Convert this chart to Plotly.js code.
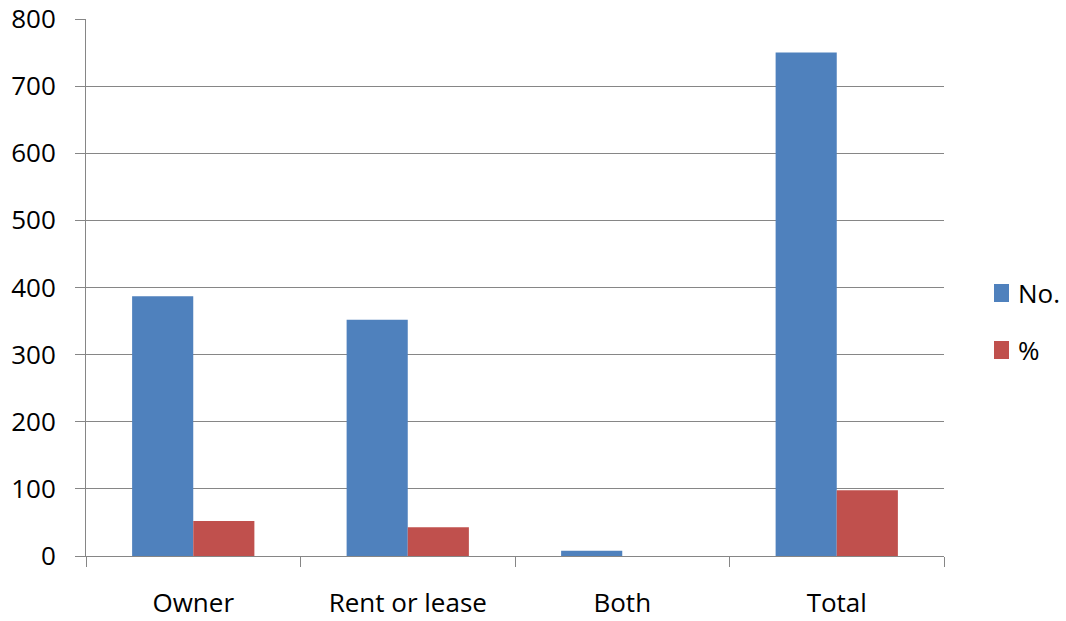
<!DOCTYPE html>
<html>
<head>
<meta charset="utf-8">
<script src="https://cdn.plot.ly/plotly-3.0.1.min.js"></script>
<style>
  html, body { margin: 0; padding: 0; background: #ffffff; }
  #chart { width: 1066px; height: 621px; }
</style>
</head>
<body>
<div id="chart"></div>
<script>
// Land tenure of holdings: count and share
const categories = ["Owner", "Rent or lease", "Both", "Total"];
const countValues = [387, 352, 8, 750];
const percentValues = [52, 43, 0, 98];
const seriesNames = ["No.", "%"];
const seriesColors = ["#4F81BD", "#C0504D"];
const yTicks = [0, 100, 200, 300, 400, 500, 600, 700, 800];

const FONT = "'Open Sans', 'Liberation Sans', sans-serif";
const GRID = "#868686";

const traces = [
  { type: "bar", name: seriesNames[0], x: categories, y: countValues,
    marker: { color: seriesColors[0] }, hoverinfo: "x+y" },
  { type: "bar", name: seriesNames[1], x: categories, y: percentValues,
    marker: { color: seriesColors[1] }, hoverinfo: "x+y" }
];

// Plot area in pixels, used for the hand-placed legend
const L = 86, R = 944, T = 19, B = 556;
const px = v => (v - L) / (R - L);
const py = v => (B - v) / (B - T);

const legendRows = [
  { top: 284, bottom: 302, textY: 293 },
  { top: 341, bottom: 359, textY: 350 }
];

const shapes = legendRows.map((row, i) => ({
  type: "rect", xref: "paper", yref: "paper",
  x0: px(994), x1: px(1009), y0: py(row.bottom), y1: py(row.top),
  fillcolor: seriesColors[i], line: { width: 0 }
}));

const annotations = legendRows.map((row, i) => ({
  xref: "paper", yref: "paper", x: px(1016), y: py(row.textY),
  xanchor: "left", yanchor: "middle", showarrow: false,
  text: seriesNames[i], font: { family: FONT, size: 26, color: "#000000" }
}));

const layout = {
  width: 1066, height: 621,
  margin: { l: L, r: 1066 - R, t: T, b: 621 - B, pad: 0 },
  paper_bgcolor: "#ffffff", plot_bgcolor: "#ffffff",
  showlegend: false,
  barmode: "group", bargap: 0.43, bargroupgap: 0,
  font: { family: FONT, size: 26, color: "#000000" },
  xaxis: {
    type: "category",
    showline: true, linecolor: GRID, linewidth: 1,
    ticks: "outside", tickson: "boundaries", ticklen: 10, tickcolor: GRID, tickwidth: 1,
    showgrid: false, zeroline: false,
    tickfont: { family: FONT, size: 26, color: "#000000" },
    ticklabelstandoff: 24
  },
  yaxis: {
    range: [0, 800], tickvals: yTicks, ticktext: yTicks.map(String),
    showline: true, linecolor: GRID, linewidth: 1,
    ticks: "outside", ticklen: 10, tickcolor: GRID, tickwidth: 1,
    showgrid: true, gridcolor: GRID, gridwidth: 1,
    zeroline: false,
    tickfont: { family: FONT, size: 26, color: "#000000" },
    ticklabelstandoff: 14
  },
  shapes: shapes,
  annotations: annotations
};

Plotly.newPlot("chart", traces, layout, { displayModeBar: false, staticPlot: true });
</script>
</body>
</html>
